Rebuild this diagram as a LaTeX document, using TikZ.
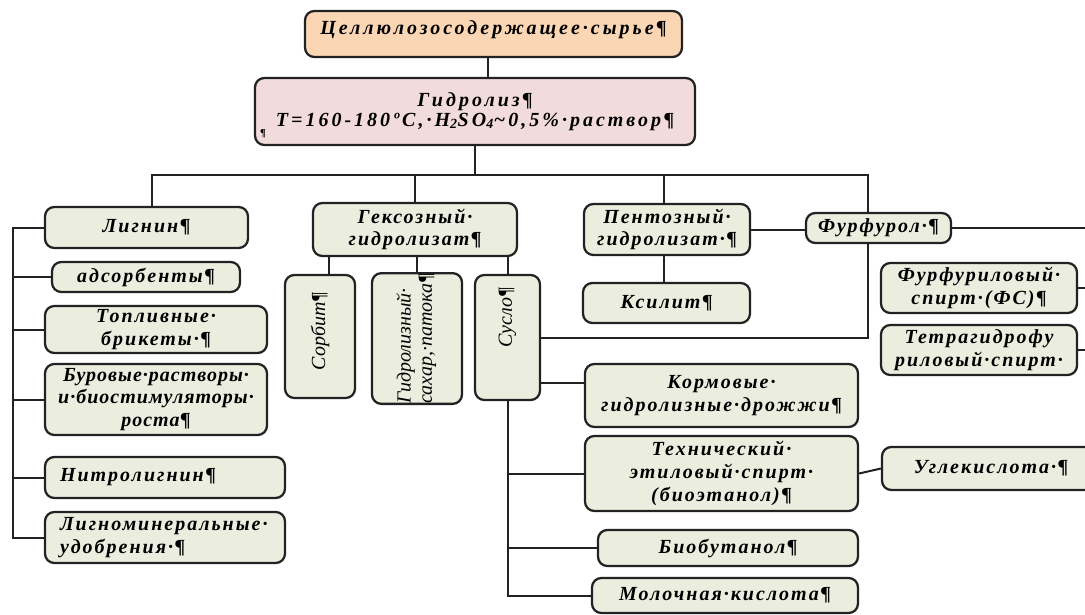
\documentclass[tikz,border=0pt]{standalone}
\usepackage{fontspec}
\usepackage{graphicx}
\setmainfont{Liberation Serif}
\newfontfamily\bfont{Liberation Serif}[LetterSpace=10]
\newfontfamily\wfont{Liberation Serif}[LetterSpace=15]
\newfontfamily\nfont{Liberation Serif}[LetterSpace=5]
\newfontfamily\vfont{Liberation Serif}
\definecolor{gfill}{HTML}{EBEEDF}
\definecolor{pfill}{HTML}{F2DCDB}
\definecolor{ofill}{HTML}{FAD6B5}
\definecolor{ink}{HTML}{222222}
\tikzset{
  box/.style={draw=ink, line width=1.7pt, rounded corners=7pt, fill=gfill, inner sep=0pt, align=center,
    font=\bfont\bfseries\itshape\fontsize{15}{17}\selectfont, text=black},
  widebox/.style={font=\wfont\bfseries\itshape\fontsize{15}{17}\selectfont},
  narrowbox/.style={font=\nfont\bfseries\itshape\fontsize{15}{17}\selectfont},
  vbox/.style={box, font=\vfont\itshape\fontsize{15}{16}\selectfont},
  conn/.style={draw=ink, line width=1.5pt},
}
\newcommand\bx[7][]{\node[box,#1,minimum width={(#5-#3)*0.75pt},minimum height={(#6-#4)*0.75pt}] (#2) at ({(#3+#5)/2},{(#4+#6)/2}) {#7};}
\begin{document}
\begin{tikzpicture}[x=0.75pt,y=-0.75pt]
\clip (0,0) rectangle (1085,614);
\fill[white] (0,0) rectangle (1085,614);
% boxes
\bx[fill=ofill, widebox]{top}{305}{11}{682}{57}{\raisebox{9pt}{Целлюлозосодержащее·сырье¶}}
\bx[fill=pfill, widebox]{hyd}{255}{78}{695}{145}{\raisebox{4pt}{\begin{tabular}{@{}c@{}}Гидролиз¶\\[-2pt]T=160-180ºC,·H\textsubscript{2}SO\textsubscript{4}\textasciitilde0,5\%·раствор¶\end{tabular}}}
\node[font=\bfont\bfseries\fontsize{8}{9}\selectfont, inner sep=0pt] (hydpil) at (263,134) {¶};
\bx{lig}{45}{207}{248}{248}{Лигнин¶}
\bx{ads}{52}{262}{240}{292}{адсорбенты¶}
\bx{fuel}{45}{306}{267}{353}{Топливные·\\брикеты·¶}
\bx[narrowbox]{drill}{45}{364}{267}{435}{Буровые·растворы·\\и·биостимуляторы·\\роста¶}
\bx[align=left, text width={(285-45-30)*0.75pt}]{nitro}{45}{457}{285}{498}{Нитролигнин¶}
\bx[align=left, text width={(285-45-30)*0.75pt}]{lmin}{45}{512}{285}{563}{Лигноминеральные·\\удобрения·¶}
\bx{hex}{313}{203}{517}{256}{Гексозный·\\гидролизат¶}
\bx[vbox]{sorb}{285}{275}{355}{398}{\rotatebox{90}{\hspace{8pt}Сорбит¶}}
\bx[vbox]{sugar}{372}{275}{462}{402}{\rotatebox{90}{\begin{tabular}{@{}l@{}}Гидролизный·\\сахар,·патока¶\end{tabular}}}
\bx[vbox]{susl}{475}{275}{540}{400}{\rotatebox{90}{\hspace{30pt}Сусло¶}}
\bx{pent}{584}{204}{750}{255}{Пентозный·\\гидролизат·¶}
\bx{xyl}{583}{283}{750}{323}{Ксилит¶}
\bx{furf}{806}{213}{951}{243}{Фурфурол·¶}
\bx{ffs}{881}{263}{1077}{313}{Фурфуриловый·\\спирт·(ФС)¶}
\bx{thf}{881}{325}{1077}{375}{Тетрагидрофу\\риловый·спирт·}
\bx{korm}{585}{364}{858}{427}{Кормовые·\\гидролизные·дрожжи¶}
\bx{tech}{585}{436}{858}{511}{Технический·\\этиловый·спирт·\\(биоэтанол)¶}
\bx{co2}{882}{447}{1100}{490}{Углекислота·¶}
\bx{bbut}{598}{530}{858}{566}{Биобутанол¶}
\bx{lact}{592}{578}{858}{613}{Молочная·кислота¶}
% helper coordinates
\coordinate (c1) at (488,0);
\coordinate (bus) at (0,175);
\coordinate (d1) at (152,0);
\coordinate (d2) at (415,0);
\coordinate (d3) at (664,0);
\coordinate (d4) at (868,0);
\coordinate (lb) at (13,0);
\coordinate (s1) at (329,0);
\coordinate (s2) at (417,0);
\coordinate (s3) at (508,0);
\coordinate (kc) at (0,383);
\coordinate (redge) at (1090,0);
% connectors
\draw[conn] (top.south -| c1) -- (hyd.north -| c1);
\draw[conn] (hyd.south) -- (hyd.south |- bus);
\draw[conn] (lig.north -| d1) -- (d1 |- bus) -- (d4 |- bus) -- (furf.north -| d4);
\draw[conn] (hex.north -| d2) -- (d2 |- bus);
\draw[conn] (pent.north -| d3) -- (d3 |- bus);
% lignin branch
\draw[conn] (lig.west) -- (lig.west -| lb) -- (lmin.west -| lb) -- (lmin.west);
\draw[conn] (ads.west -| lb) -- (ads.west);
\draw[conn] (fuel.west -| lb) -- (fuel.west);
\draw[conn] (drill.west -| lb) -- (drill.west);
\draw[conn] (nitro.west -| lb) -- (nitro.west);
% hexose branch
\draw[conn] (hex.south -| s1) -- (sorb.north -| s1);
\draw[conn] (hex.south -| s2) -- (sugar.north -| s2);
\draw[conn] (hex.south -| s3) -- (susl.north -| s3);
\draw[conn] (susl.south -| s3) -- (lact.west -| s3) -- (lact.west);
\draw[conn] (susl.east |- kc) -- (korm.west |- kc);
\draw[conn] (tech.west -| s3) -- (tech.west);
\draw[conn] (bbut.west -| s3) -- (bbut.west);
\draw[conn] (tech.east) -- (co2.west);
% pentose branch
\draw[conn] (pent.south -| d3) -- (xyl.north -| d3);
\draw[conn] (pent.east) -- (pent.east -| furf.west);
\draw[conn] (furf.south -| d4) |- (susl.east);
\draw[conn] (furf.east) -- (furf.east -| redge);
\draw[conn] (ffs.east) -- (ffs.east -| redge);
\draw[conn] (thf.east) -- (thf.east -| redge);
\end{tikzpicture}
\end{document}
